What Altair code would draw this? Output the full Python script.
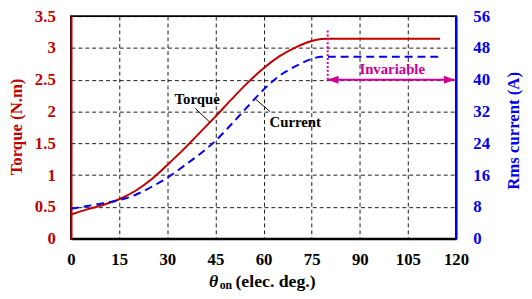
import altair as alt
import pandas as pd

# ---- data ----
theta_torque = [0, 5, 10, 15, 20, 25, 30, 35, 40, 45, 50, 55, 60, 65, 70, 75, 78, 80, 115]
torque = [0.38, 0.46, 0.53, 0.62, 0.75, 0.93, 1.16, 1.40, 1.66, 1.92, 2.19, 2.45, 2.68, 2.87, 3.01, 3.11, 3.14, 3.145, 3.145]

theta_current = [0, 5, 10, 15, 20, 25, 30, 35, 40, 45, 50, 55, 60, 65, 70, 75, 78, 80, 115]
current = [7.5, 8.2, 8.9, 9.7, 11.0, 13.0, 15.3, 18.2, 21.2, 24.6, 28.8, 33.2, 37.5, 41.0, 43.4, 45.2, 45.8, 45.8, 45.8]

x_ticks = [0, 15, 30, 45, 60, 75, 90, 105, 120]
torque_ticks = [0, 0.5, 1, 1.5, 2, 2.5, 3, 3.5]
current_ticks = [0, 8, 16, 24, 32, 40, 48, 56]

# annotation labels (theta, torque units)
label_text = ["Torque", "Current", "Invariable"]
label_x = [39.3, 69.9, 100.1]
label_y = [2.20, 1.83, 2.66]

# leader lines (theta, torque units)
leader_x1 = [38.7, 57.4]
leader_y1 = [2.05, 2.20]
leader_x2 = [43.3, 62.0]
leader_y2 = [1.83, 2.00]

invariable_start = 80
invariable_end = 119.6
invariable_level = 2.5
invariable_top = 3.30

RED = "#c00000"
BLUE = "#0000ee"
MAG = "#cc0099"
FONT = "Liberation Serif"

xscale = alt.Scale(domain=[0, 120], nice=False)
tscale = alt.Scale(domain=[0, 3.5], nice=False)
cscale = alt.Scale(domain=[0, 56], nice=False)

x_axis = alt.Axis(values=x_ticks, title=None, grid=True, gridColor="black", gridDash=[4, 3],
                  gridOpacity=0.9, domainColor="black", domainWidth=2, ticks=False,
                  labelPadding=13, labelColor="black", labelFont=FONT, labelFontWeight="bold",
                  labelFontSize=17, labelFlush=False)
t_axis = alt.Axis(values=torque_ticks, format="~g", title="Torque (N.m)", grid=True,
                  gridColor="black", gridDash=[4, 3], gridOpacity=0.9,
                  domainColor=RED, domainWidth=2, ticks=False, labelPadding=16,
                  labelColor=RED, labelFont=FONT, labelFontWeight="bold", labelFontSize=17,
                  labelFlush=False,
                  titleColor=RED, titleFont=FONT, titleFontWeight="bold", titleFontSize=17,
                  titleAngle=270, titleX=-55, titleY=112, titleAlign="center",
                  titleBaseline="middle")
c_axis = alt.Axis(orient="right", values=current_ticks, title="Rms current (A)", grid=False,
                  domainColor=BLUE, domainWidth=2, ticks=False, labelPadding=17,
                  labelColor=BLUE, labelFont=FONT, labelFontWeight="bold", labelFontSize=17,
                  labelFlush=False,
                  titleColor=BLUE, titleFont=FONT, titleFontWeight="bold", titleFontSize=17,
                  titleAngle=270, titleX=58, titleY=116, titleAlign="center",
                  titleBaseline="middle")


def X(field):
    return alt.X(field, scale=xscale, axis=x_axis)


def YT(field):
    return alt.Y(field, scale=tscale, axis=t_axis)


df_t = pd.DataFrame({"theta": theta_torque, "torque": torque})
df_c = pd.DataFrame({"theta": theta_current, "current": current})

torque_line = alt.Chart(df_t).mark_line(color=RED, strokeWidth=2, interpolate="monotone").encode(
    x=X("theta:Q"), y=YT("torque:Q"))

ann_df = pd.DataFrame({"x": label_x, "y": label_y, "t": label_text,
                       "c": ["black", "black", MAG]})
labels = alt.Chart(ann_df).mark_text(font=FONT, fontWeight="bold", fontSize=15, baseline="middle").encode(
    x=X("x:Q"), y=YT("y:Q"), text="t:N", color=alt.Color("c:N", scale=None))

lead_df = pd.DataFrame({"x1": leader_x1, "y1": leader_y1, "x2": leader_x2, "y2": leader_y2})
leaders = alt.Chart(lead_df).mark_rule(color="black", strokeWidth=1).encode(
    x=X("x1:Q"), x2="x2:Q", y=YT("y1:Q"), y2="y2:Q")

inv_df = pd.DataFrame({"x1": [invariable_start], "x2": [invariable_end],
                       "y": [invariable_level], "ytop": [invariable_top]})
inv_h = alt.Chart(inv_df).mark_rule(color=MAG, strokeWidth=2).encode(
    x=X("x1:Q"), x2="x2:Q", y=YT("y:Q"))
inv_v = alt.Chart(inv_df).mark_rule(color=MAG, strokeWidth=2, strokeDash=[2, 2]).encode(
    x=X("x1:Q"), y=YT("y:Q"), y2="ytop:Q")
arrow_l = alt.Chart(inv_df).mark_point(filled=True, opacity=1, color=MAG, size=121,
                                       shape="M 0 0 L 2 -0.75 L 2 0.75 Z").encode(
    x=X("x1:Q"), y=YT("y:Q"))
arrow_r = alt.Chart(inv_df).mark_point(filled=True, opacity=1, color=MAG, size=121,
                                       shape="M 0 0 L -2 -0.75 L -2 0.75 Z").encode(
    x=X("x2:Q"), y=YT("y:Q"))

one = pd.DataFrame({"a": [0]})
xt_theta = alt.Chart(one).mark_text(text="θ", font=FONT, fontWeight="bold", fontStyle="italic",
                                    fontSize=18, align="left", baseline="alphabetic").encode(
    x=alt.value(140), y=alt.value(275))
xt_on = alt.Chart(one).mark_text(text="on", font=FONT, fontWeight="bold", fontSize=12,
                                 align="left", baseline="alphabetic").encode(
    x=alt.value(151), y=alt.value(277))
xt_rest = alt.Chart(one).mark_text(text="(elec. deg.)", font=FONT, fontWeight="bold", fontSize=18,
                                   align="left", baseline="alphabetic").encode(
    x=alt.value(167), y=alt.value(275))

left_group = alt.layer(torque_line, leaders, inv_v, inv_h, arrow_l, arrow_r, labels,
                       xt_theta, xt_on, xt_rest)

current_line = alt.Chart(df_c).mark_line(color=BLUE, strokeWidth=2, strokeDash=[8, 5],
                                         interpolate="monotone").encode(
    x=X("theta:Q"),
    y=alt.Y("current:Q", scale=cscale, axis=c_axis),
)

chart = alt.layer(left_group, current_line).resolve_scale(y="independent").properties(
    width=391, height=226,
    autosize=alt.AutoSizeParams(type="none"),
    padding={"left": 64, "top": 6, "right": 69, "bottom": 59},
    background="white",
).configure_view(stroke="black", strokeWidth=2)

chart.save("out.html", embed_options={"renderer": "svg", "actions": False})
